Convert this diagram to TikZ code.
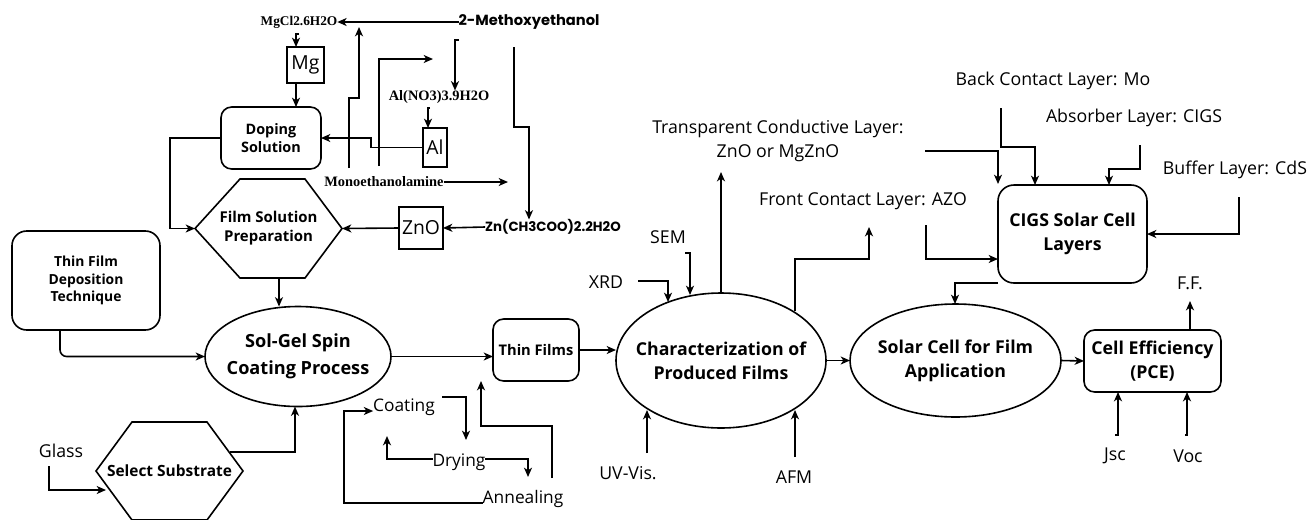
\documentclass[tikz,border=0pt]{standalone}
\usepackage{fontspec}
\setmainfont{Open Sans}
\newfontfamily\serifb{Liberation Serif}
\newfontfamily\popf{Poppins}
\usetikzlibrary{arrows.meta,shapes.geometric,calc}
\def\pxu{0.75pt}
\begin{document}
\begin{tikzpicture}[x=0.75pt,y=-0.75pt,
  every node/.style={inner sep=0pt,outer sep=0pt,align=center},
  ln/.style={line width=1.2pt,line join=miter},
  arr/.style={ln,-{Stealth[length=7pt,width=6pt,inset=2pt]}},
  lab/.style={font=\fontsize{13.3}{17.5}\selectfont},
  labb/.style={font=\fontsize{13}{17}\selectfont},
  bsmall/.style={font=\fontsize{11}{13.5}\selectfont\bfseries},
  bbig/.style={font=\fontsize{13.3}{18}\selectfont\bfseries},
  boxtxt/.style={font=\fontsize{14.5}{17}\selectfont},
  sertxt/.style={font=\fontsize{10.8}{13}\serifb\bfseries},
  poptxt/.style={font=\fontsize{10}{13}\popf\bfseries},
  rbox/.style={draw,ln,rounded corners=8pt},
  sbox/.style={draw,ln},
  ell/.style={draw,ln,ellipse}]
\fill[white] (0,0) rectangle (1311,519);
\useasboundingbox (0,0) rectangle (1311,519);

% ---- top chemistry part ----
\node[sertxt,font=\fontsize{10}{12}\serifb\bfseries] (mgcl) at (299,22) {MgCl2.6H2O};
\node[poptxt,font=\fontsize{11}{13}\popf\bfseries] (meth) at (529,22) {2-Methoxyethanol};
\node[sertxt] (alno) at (439,97) {Al(NO3)3.9H2O};
\node[sertxt] (mea) at (384,182) {Monoethanolamine};
\node[poptxt] (zn) at (553,227) {Zn(CH3COO)2.2H2O};

\node[sbox,boxtxt,minimum width=37*\pxu,minimum height=36*\pxu] (mg) at (305.5,65) {Mg};
\node[sbox,boxtxt,minimum width=24*\pxu,minimum height=39*\pxu] (al) at (435,147.5) {Al};
\node[sbox,boxtxt,minimum width=44*\pxu,minimum height=42*\pxu] (zno) at (421,228) {ZnO};
\node[rbox,bsmall,font=\fontsize{10.8}{13.5}\selectfont\bfseries,minimum width=100*\pxu,minimum height=62*\pxu] (dop) at (271,138) {Doping\\Solution};

\node[bsmall,font=\fontsize{11.2}{14.3}\selectfont\bfseries,minimum width=147*\pxu,minimum height=99*\pxu] (film) at (268.5,228.5) {Film Solution\\Preparation};
\draw[ln] (film.west) -- ($(film.north west)+(45,0)$) -- ($(film.north east)+(-37,0)$) -- (film.east)
  -- ($(film.south east)+(-37,0)$) -- ($(film.south west)+(45,0)$) -- cycle;

\node[rbox,bsmall,font=\fontsize{10.4}{13.2}\selectfont\bfseries,rounded corners=11pt,minimum width=148*\pxu,minimum height=99*\pxu] (tfd) at (86,280.5) {Thin Film\\Deposition\\Technique};

\node[ell,minimum width=186*\pxu,minimum height=100*\pxu,
  label={[bbig,font=\fontsize{13.6}{20}\selectfont\bfseries]center:Sol-Gel Spin\\Coating Process}] (sg) at (298,356.5) {};

\node[bsmall,font=\fontsize{11.6}{14}\selectfont\bfseries,minimum width=147*\pxu,minimum height=98*\pxu] (sel) at (169.5,471) {Select Substrate};
\draw[ln] (sel.west) -- ($(sel.north west)+(36,0)$) -- ($(sel.north east)+(-36,0)$) -- (sel.east)
  -- ($(sel.south east)+(-36,0)$) -- ($(sel.south west)+(36,0)$) -- cycle;

\node[rbox,bsmall,minimum width=86*\pxu,minimum height=62*\pxu] (tf) at (536,350) {Thin Films};

\node[ell,minimum width=210*\pxu,minimum height=135*\pxu,
  label={[bbig]center:Characterization of\\Produced Films}] (ch) at (721,360.5) {};
\node[ell,minimum width=211*\pxu,minimum height=113*\pxu,
  label={[bbig]center:Solar Cell for Film\\Application}] (so) at (955.5,360.5) {};
\node[rbox,bbig,minimum width=137*\pxu,minimum height=62*\pxu] (ce) at (1152.5,361) {Cell Efficiency\\(PCE)};
\node[rbox,bbig,rounded corners=12pt,minimum width=149*\pxu,minimum height=98*\pxu] (cigs) at (1072.5,234) {CIGS Solar Cell\\Layers};

% ---- plain labels ----
\node[lab] (tc) at (778,141) {Transparent Conductive Layer:\\ZnO or MgZnO};
\node[lab] (azo) at (863,201) {Front Contact Layer: AZO};
\node[lab] (bc) at (1053,81) {Back Contact Layer: Mo};
\node[lab] (abs) at (1134,118) {Absorber Layer: CIGS};
\node[lab] (buf) at (1235,170) {Buffer Layer: CdS};
\node[lab] (xrd) at (606,282) {XRD};
\node[lab] (sem) at (668,237) {SEM};
\node[lab] (uv) at (628,473) {UV-Vis.};
\node[lab] (afm) at (794,477) {AFM};
\node[lab] (ff) at (1190,283) {F.F.};
\node[lab] (jsc) at (1115,456) {Jsc};
\node[lab] (voc) at (1188,456) {Voc};
\node[lab] (glass) at (61,451) {Glass};
\node[labb] (coat) at (404,407) {Coating};
\node[labb] (dry) at (459,462) {Drying};
\node[labb] (ann) at (523,499) {Annealing};

% ---- connectors ----
\draw[arr] (meth.west) -- (mgcl.east);
\draw[arr] (459,40) -- (455,40) -- (alno.north -| 455,0);
\draw[arr] (299,34) -- (296,34) -- (mg.north -| 296,0);
\draw[arr] (mg.south -| 296,0) -- (dop.north -| 296,0);
\draw[arr] (430,108) -- (428,108) -- (al.north -| 428,0);
\draw[arr] (al.west) -- (371,147.5) -- (371,138) -- (dop.east);
\draw[arr] (dop.west) -- (170,138) -- (170,228.5) -- (film.west);
\draw[arr] (349,168) -- (349,98) -- (359,98) -- (359,27);
\draw[arr] (379,166) -- (379,59) -- (433,59);
\draw[arr] (mea.east) -- (508,182);
\draw[arr] (514,47) -- (514,127) -- (529,127) -- (zn.north -| 529,0);
\draw[arr] (zn.west) -- (zno.east);
\draw[arr] (zno.west) -- (film.east);
\draw[arr] (film.south -| 279,0) -- (sg.north -| 279,0);
\draw[arr,rounded corners=5pt] (tfd.south -| 60,0) |- (sg.west);
\draw[arr] (sg.east) -- (tf.west |- sg.east);
\draw[arr] (49,466) -- (49,490) -- (106,490);
\draw[arr] (230,452) -- (295,452) -- (sg.south -| 295,0);
\draw[arr] (442,397) -- (466,397) -- (466,440);
\draw[arr] (dry.west |- 0,459) -- (387,459) -- (387,436);
\draw[arr] (dry.east |- 0,459) -- (528,459) -- (528,477);
\draw[arr] (ann.west |- 0,503) -- (344,503) -- (344,411) -- (coat.west |- 0,411);
\draw[arr] (552,478) -- (552,426) -- (481,426) -- (tf.south -| 481,0);
\draw[arr] (tf.east) -- (ch.west |- tf.east);
\draw[arr] (638,281) -- (668,281) -- (668,302);
\draw[arr] (685,253) -- (690,253) -- (690,295);
\draw[arr] (ch.north) -- (721,172);
\draw[arr] (795,311) -- (795,259) -- (869,259) -- (869,227);
\draw[arr] (647,453) -- (647,410);
\draw[arr] (795,457) -- (795,410);
\draw[arr] (ch.east) -- (so.west);
\draw[arr] (925,151) -- (998,151) -- (998,184);
\draw[arr] (1001,108) -- (1001,147) -- (1035,147) -- (cigs.north -| 1035,0);
\draw[arr] (1140,145) -- (1140,169) -- (1109,169) -- (cigs.north -| 1109,0);
\draw[arr] (1239,197) -- (1239,234) -- (cigs.east);
\draw[arr] (926,225) -- (926,259) -- (cigs.west |- 0,259);
\draw[arr] (cigs.south -| 998,0) -- (955,283) -- (so.north -| 955,0);
\draw[arr] (so.east) -- (ce.west);
\draw[arr] (ce.north -| 1190,0) -- (1190,301);
\draw[arr] (1115,435) -- (1118,435) -- (ce.south -| 1118,0);
\draw[arr] (1185,435) -- (1187,435) -- (ce.south -| 1187,0);
\end{tikzpicture}
\end{document}
